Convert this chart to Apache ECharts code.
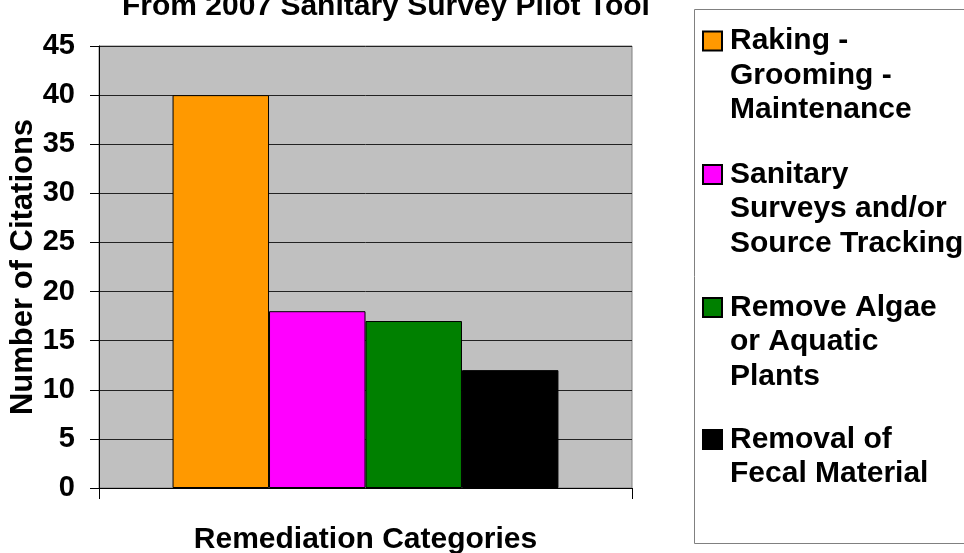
<!DOCTYPE html>
<html>
<head>
<meta charset="utf-8">
<script src="https://cdn.jsdelivr.net/npm/echarts@6/dist/echarts.min.js"></script>
<style>
  html, body { margin: 0; padding: 0; background: #fff; }
</style>
</head>
<body>
<div id="myChart" style="width: 964px; height: 553px;"></div>
<script>
var categories = ['']
var seriesNames = [
  'Raking - Grooming - Maintenance',
  'Sanitary Surveys and/or Source Tracking',
  'Remove Algae or Aquatic Plants',
  'Removal of Fecal Material'
]
var legendLabels = [
  'Raking -\nGrooming -\nMaintenance',
  'Sanitary\nSurveys and/or\nSource Tracking',
  'Remove Algae\nor Aquatic\nPlants',
  'Removal of\nFecal Material'
]
var values = [40, 18, 17, 12]
var colors = ['#FF9900', '#FF00FF', '#008000', '#000000']
var yMin = 0
var yMax = 45
var yStep = 5

var font = "'Liberation Sans', Arial, sans-serif"
var lineH = 34.5
// vertical centre of each legend icon
var legendIconY = [41, 174.5, 307.5, 439.5]

var myChart = echarts.init(document.getElementById('myChart'))

var series = []
for (var i = 0; i < seriesNames.length; i++) {
  series.push({
    name: seriesNames[i],
    type: 'bar',
    data: [values[i]],
    barGap: '0%',
    barCategoryGap: '27.6%',
    itemStyle: {
      color: colors[i],
      borderColor: '#000',
      borderWidth: 1
    },
    animation: false
  })
}

// legend text is centred on its icon, so blank lines are put in front
// to bring the first line level with the icon
var legends = seriesNames.map(function (name, i) {
  var lines = legendLabels[i].split('\n').length
  var pad = new Array(lines).join('\n')
  var label = pad + legendLabels[i]
  var blockH = (2 * lines - 1) * lineH
  return {
    data: [name],
    orient: 'vertical',
    left: 702,
    top: legendIconY[i] - blockH / 2,
    padding: 0,
    itemWidth: 19,
    itemHeight: 19,
    icon: 'rect',
    selectedMode: false,
    formatter: function () { return label },
    textStyle: {
      fontFamily: font,
      fontSize: 30,
      fontWeight: 'bold',
      color: '#000',
      lineHeight: lineH,
      padding: [0, 0, 0, 3]
    }
  }
})

myChart.setOption({
  title: {
    text: 'From 2007 Sanitary Survey Pilot Tool',
    left: 122,
    top: -8,
    padding: 0,
    textStyle: {
      fontFamily: font,
      fontSize: 30,
      fontWeight: 'bold',
      color: '#000'
    }
  },
  legend: legends,
  graphic: [
    {
      type: 'rect',
      z: -1,
      shape: { x: 694.5, y: 9.5, width: 275, height: 534 },
      style: { fill: 'none', stroke: '#808080', lineWidth: 1 }
    }
  ],
  grid: {
    left: 99,
    right: 332,
    top: 46,
    bottom: 65,
    outerBoundsMode: 'none',
    containLabel: false,
    show: true,
    backgroundColor: '#C0C0C0',
    borderColor: '#808080',
    borderWidth: 1
  },
  xAxis: {
    type: 'category',
    data: categories,
    name: 'Remediation Categories',
    nameLocation: 'middle',
    nameGap: 37,
    nameTextStyle: {
      fontFamily: font,
      fontSize: 30,
      fontWeight: 'bold',
      color: '#000'
    },
    axisLine: { lineStyle: { color: '#000', width: 1 } },
    axisTick: { show: true, length: 11, lineStyle: { color: '#000' } },
    axisLabel: { show: false }
  },
  yAxis: {
    type: 'value',
    min: yMin,
    max: yMax,
    interval: yStep,
    name: 'Number of Citations',
    nameLocation: 'middle',
    nameRotate: 90,
    nameGap: 60,
    nameMoveOverlap: false,
    nameTextStyle: {
      fontFamily: font,
      fontSize: 31,
      fontWeight: 'bold',
      color: '#000'
    },
    axisLine: { show: true, lineStyle: { color: '#000', width: 1 } },
    axisTick: { show: true, length: 9, lineStyle: { color: '#000' } },
    axisLabel: {
      margin: 24,
      fontFamily: font,
      fontSize: 29,
      fontWeight: 'bold',
      color: '#000'
    },
    splitLine: { show: true, lineStyle: { color: '#222', width: 1 } }
  },
  series: series
})
</script>
</body>
</html>
